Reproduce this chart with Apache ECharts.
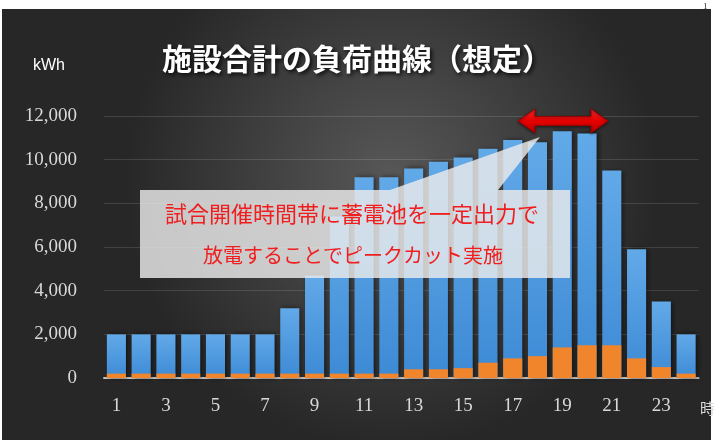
<!DOCTYPE html>
<html>
<head>
<meta charset="utf-8">
<script src="https://cdn.jsdelivr.net/npm/echarts@6/dist/echarts.min.js"></script>
<style>
html,body{margin:0;padding:0;background:#fff;}
#main{width:714px;height:440px;}
</style>
</head>
<body>
<div id="main"></div>
<script>
// ---- data ----
var hours = ['1','2','3','4','5','6','7','8','9','10','11','12','13','14','15','16','17','18','19','20','21','22','23','24'];
var totalLoad = [2000,2000,2000,2000,2000,2000,2000,3200,4700,7400,9200,9200,9600,9900,10100,10500,10900,10800,11300,11200,9500,5900,3500,2000];
var batteryPart = [200,200,200,200,200,200,200,200,200,200,200,200,400,400,450,700,900,1000,1400,1500,1500,900,500,200];
var yTicks = [0,2000,4000,6000,8000,10000,12000];
var titleText = '施設合計の負荷曲線（想定）';
var calloutLines = ['試合開催時間帯に蓄電池を一定出力で','放電することでピークカット実施'];

var chart = echarts.init(document.getElementById('main'), null, {renderer:'canvas'});
var serif = '"Liberation Serif", "DejaVu Serif", serif';
var jp = '"Noto Sans CJK JP", "Noto Sans", sans-serif';

var option = {
  backgroundColor: '#ffffff',
  animation: false,
  title: {
    text: titleText,
    left: 'center',
    top: 39,
    textStyle: {
      fontFamily: jp, fontWeight: 'bold', fontSize: 30, color: '#ffffff',
      textShadowColor: 'rgba(0,0,0,0.85)', textShadowBlur: 4, textShadowOffsetX: 2, textShadowOffsetY: 2
    }
  },
  grid: {left: 104, right: 15.5, top: 116, bottom: 62},
  xAxis: {
    type: 'category',
    data: hours,
    axisLine: {lineStyle: {color: '#c8c2bc', width: 2}},
    axisTick: {show: false},
    axisLabel: {interval: 1, color: '#d9d9d9', fontFamily: serif, fontSize: 19, margin: 19}
  },
  yAxis: {
    type: 'value',
    min: yTicks[0], max: yTicks[yTicks.length-1], interval: 2000,
    axisLine: {show: false},
    axisTick: {show: false},
    splitLine: {lineStyle: {color: 'rgba(255,255,255,0.13)', width: 1}},
    axisLabel: {
      color: '#d9d9d9', fontFamily: serif, fontSize: 19, margin: 27,
      formatter: function (v) { return v.toLocaleString('en-US'); }
    }
  },
  series: [
    {
      type: 'bar',
      data: totalLoad,
      barCategoryGap: '23%',
      barGap: '-100%',
      itemStyle: {
        color: new echarts.graphic.LinearGradient(0,0,0,1,[{offset:0,color:'#62a9e8'},{offset:1,color:'#3d8ad5'}]),
        shadowColor: 'rgba(0,0,0,0.55)', shadowBlur: 5, shadowOffsetX: 2
      },
      z: 2
    },
    {
      type: 'bar',
      data: batteryPart,
      barCategoryGap: '23%',
      barGap: '-100%',
      itemStyle: {color: '#f0852c'},
      z: 3
    }
  ],
  graphic: [
    {
      type: 'rect', z: -100, silent: true,
      shape: {x: 2, y: 9, width: 709, height: 431},
      style: {
        fill: new echarts.graphic.RadialGradient(0.55, 0.4, 0.62, [
          {offset: 0, color: '#585858'}, {offset: 1, color: '#272727'}
        ])
      }
    },
    {
      type: 'text', left: 703, top: 2, z: 10,
      style: {text: '1', fontSize: 9, fill: '#333', fontFamily: serif}
    },
    {
      type: 'text', left: 33, top: 58, z: 10,
      style: {text: 'kWh', fontSize: 16, fill: '#ffffff', fontFamily: '"Liberation Sans", Arial, sans-serif'}
    },
    {
      type: 'text', left: 700, top: 401, z: 10,
      style: {text: '時', fontSize: 15, fill: '#d9d9d9', fontFamily: jp}
    },
    // callout tail
    {
      type: 'polygon', z: 50,
      shape: {points: [[390,190],[498,190],[540,137]]},
      style: {fill: 'rgba(236,236,236,0.82)'}
    },
    // callout box
    {
      type: 'rect', z: 50,
      shape: {x: 140, y: 190, width: 430, height: 88},
      style: {fill: 'rgba(236,236,236,0.82)'}
    },
    {
      type: 'text', z: 51, x: 352, y: 214,
      style: {text: calloutLines[0], fontSize: 22, fill: '#f01e1e', fontFamily: jp, align: 'center', verticalAlign: 'middle'}
    },
    {
      type: 'text', z: 51, x: 353, y: 255,
      style: {text: calloutLines[1], fontSize: 20, fill: '#f01e1e', fontFamily: jp, align: 'center', verticalAlign: 'middle'}
    },
    // double arrow
    {
      type: 'polygon', z: 60,
      shape: {points: [[518,121],[535,109],[535,116.5],[591,116.5],[591,109],[608,121],[591,133],[591,125.5],[535,125.5],[535,133]]},
      style: {
        fill: new echarts.graphic.LinearGradient(0,0,0,1,[{offset:0,color:'#ff2a2a'},{offset:0.5,color:'#e60000'},{offset:1,color:'#b80000'}]),
        stroke: '#9a0000', lineWidth: 1,
        shadowColor: 'rgba(0,0,0,0.5)', shadowBlur: 3, shadowOffsetY: 1
      }
    }
  ]
};
chart.setOption(option);
</script>
</body>
</html>
